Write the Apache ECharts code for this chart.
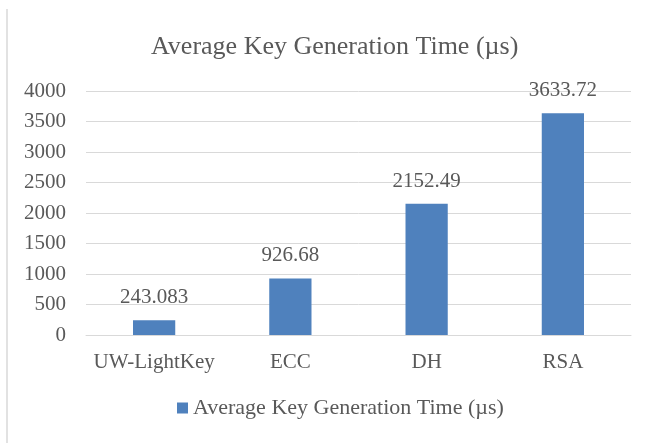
<!DOCTYPE html>
<html>
<head>
<meta charset="utf-8">
<script src="https://cdn.jsdelivr.net/npm/echarts@6/dist/echarts.min.js"></script>
<style>
  html, body { margin: 0; padding: 0; background: #fff; }
  #chart { width: 656px; height: 443px; }
</style>
</head>
<body>
<div id="chart"></div>
<script>
// Key generation benchmarks (microseconds)
const categories = ['UW-LightKey', 'ECC', 'DH', 'RSA'];
const keyGenTimes = [243.083, 926.68, 2152.49, 3633.72];
const seriesName = 'Average Key Generation Time (\u00b5s)';
const chartTitle = 'Average Key Generation Time (\u00b5s)';

const FONT = '"Liberation Serif", "Times New Roman", serif';
const TEXT = '#595959';

const chart = echarts.init(document.getElementById('chart'), null, { renderer: 'canvas' });
chart.setOption({
  backgroundColor: '#ffffff',
  animation: false,
  title: {
    text: chartTitle,
    left: 146,
    top: 29,
    textStyle: { fontFamily: FONT, fontSize: 26, fontWeight: 'normal', color: TEXT }
  },
  legend: {
    bottom: 19,
    left: 172,
    itemWidth: 11,
    itemHeight: 11,
    itemGap: 6,
    textStyle: { fontFamily: FONT, fontSize: 22, color: TEXT },
    data: [{ name: seriesName, icon: 'rect' }]
  },
  grid: { left: 86, right: 25, top: 91, bottom: 108 },
  xAxis: {
    type: 'category',
    data: categories,
    axisLine: { lineStyle: { color: '#d9d9d9', width: 1 } },
    axisTick: { show: false },
    axisLabel: { fontFamily: FONT, fontSize: 21, color: TEXT, margin: 17, interval: 0 }
  },
  yAxis: {
    type: 'value',
    min: 0,
    max: 4000,
    interval: 500,
    axisLine: { show: false },
    axisTick: { show: false },
    splitLine: { lineStyle: { color: '#d9d9d9', width: 1 } },
    axisLabel: { fontFamily: FONT, fontSize: 21, color: TEXT, margin: 20, formatter: v => String(v) }
  },
  series: [{
    name: seriesName,
    type: 'bar',
    data: keyGenTimes,
    barWidth: '31%',
    itemStyle: { color: '#4f81bd' },
    label: {
      show: true,
      position: 'top',
      distance: 12,
      fontFamily: FONT,
      fontSize: 21,
      color: TEXT,
      formatter: p => String(p.value)
    }
  }],
  graphic: [{
    type: 'line',
    shape: { x1: 7, y1: 9, x2: 7, y2: 443 },
    style: { stroke: '#d9d9d9', lineWidth: 1.5 }
  }]
});
</script>
</body>
</html>
